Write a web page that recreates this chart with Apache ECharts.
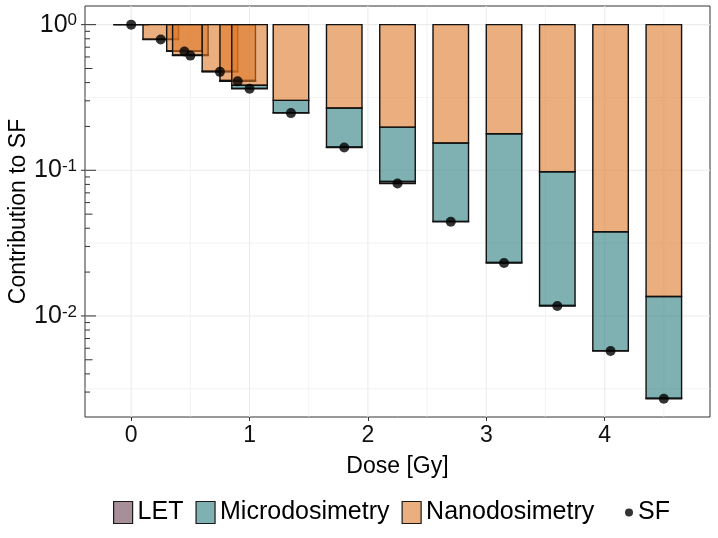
<!DOCTYPE html>
<html><head><meta charset="utf-8">
<script src="https://cdn.jsdelivr.net/npm/echarts@6/dist/echarts.min.js"></script>
<style>html,body{margin:0;padding:0;background:#fff}#c{width:718px;height:538px}</style>
</head><body><div id="c"></div>
<script>
// ---- data ----
const doses    = [0, 0.25, 0.45, 0.5, 0.75, 0.9, 1, 1.35, 1.8, 2.25, 2.7, 3.15, 3.6, 4.05, 4.5];
const sf       = [1, 0.79, 0.655, 0.613, 0.474, 0.408, 0.363, 0.247, 0.1435, 0.0811, 0.0443, 0.0231, 0.0117, 0.00574, 0.0027];
const letTop   = [1, 0.792, 0.657, 0.615, 0.476, 0.41, 0.365, 0.249, 0.1445, 0.0838, 0.0446, 0.0233, 0.01178, 0.00578, 0.00272];
const microTop = [1, 0.795, 0.661, 0.619, 0.48, 0.414, 0.384, 0.302, 0.268, 0.198, 0.154, 0.178, 0.0977, 0.0378, 0.0136];
const ones     = [1, 1, 1, 1, 1, 1, 1, 1, 1, 1, 1, 1, 1, 1, 1];
const xTickLabels = [0, 1, 2, 3, 4];
const xMinorBreaks = [0.5, 1.5, 2.5, 3.5, 4.5];
const yMajorBreaks = [1, 0.1, 0.01];
const yMinorBreaks = [0.316228, 0.0316228, 0.00316228];
const logTickMultipliers = [1, 2, 3, 4, 5, 6, 7, 8, 9];
const logTickDecades = [1, 0.1, 0.01, 0.001];

// ---- layout / style ----
const XMIN = -0.39, XMAX = 4.89;
const YMIN = 0.002023, YMAX = 1.343;
const HALF_W = 0.15;
const FONT = "'Liberation Sans', Arial, Helvetica, sans-serif";
const C_LET = 'rgba(107,68,85,0.6)';
const C_MICRO = 'rgba(42,125,127,0.6)';
const C_NANO = 'rgba(222,120,40,0.6)';

const logTicks = [];
logTickDecades.forEach(d => logTickMultipliers.forEach(m => logTicks.push([d * m, m === 1 ? 2 : (m === 5 ? 1 : 0)])));

function barSeries(name, fill, lo, hi) {
  return {
    name, type: 'custom', coordinateSystem: 'cartesian2d', z: 3,
    data: doses.map((d, i) => [d, lo[i], hi[i]]),
    encode: { x: 0, y: [1, 2] },
    renderItem(params, api) {
      const x = api.value(0), a = api.value(1), b = api.value(2);
      const p1 = api.coord([x - HALF_W, b]);
      const p2 = api.coord([x + HALF_W, a]);
      return { type: 'rect', shape: { x: p1[0], y: p1[1], width: p2[0] - p1[0], height: p2[1] - p1[1] },
        style: { fill, stroke: '#111', lineWidth: 1.4 } };
    }
  };
}

const gridSeries = {
  type: 'custom', silent: true, z: 0, coordinateSystem: 'cartesian2d',
  data: [].concat(
    xTickLabels.map(v => [v, 1, 0, 1]),
    xMinorBreaks.map(v => [v, 1, 0, 0]),
    yMajorBreaks.map(v => [0, v, 1, 1]),
    yMinorBreaks.map(v => [0, v, 1, 0])
  ),
  renderItem(params, api) {
    const cs = params.coordSys;
    const horiz = api.value(2) === 1, major = api.value(3) === 1;
    const p = api.coord([api.value(0), api.value(1)]);
    const style = { stroke: '#EBEBEB', lineWidth: major ? 1.1 : 0.6 };
    if (horiz) return { type: 'line', shape: { x1: cs.x, y1: p[1], x2: cs.x + cs.width, y2: p[1] }, style };
    return { type: 'line', shape: { x1: p[0], y1: cs.y, x2: p[0], y2: cs.y + cs.height }, style };
  }
};

const logTickSeries = {
  type: 'custom', silent: true, z: 6, coordinateSystem: 'cartesian2d',
  data: logTicks.map(t => [XMIN, t[0], t[1]]),
  renderItem(params, api) {
    const v = api.value(1);
    if (v < YMIN || v > YMAX) return null;
    const cs = params.coordSys;
    const y = api.coord([XMIN, v])[1];
    const kind = api.value(2);
    const len = kind === 2 ? 11 : (kind === 1 ? 7.5 : 5);
    const x0 = kind === 2 ? cs.x - 4 : cs.x;
    return { type: 'line', shape: { x1: x0, y1: y, x2: cs.x + len, y2: y }, style: { stroke: '#333', lineWidth: 1 } };
  }
};

const chart = echarts.init(document.getElementById('c'), null, { renderer: 'canvas' });
chart.setOption({
  animation: false,
  backgroundColor: '#fff',
  textStyle: { fontFamily: FONT },
  grid: { left: 85, right: 8, top: 6, bottom: 121, show: true, borderColor: '#333', borderWidth: 1,
          containLabel: false, outerBoundsMode: 'none' },
  xAxis: {
    type: 'value', min: XMIN, max: XMAX,
    name: 'Dose [Gy]', nameLocation: 'middle', nameGap: 38, nameMoveOverlap: false,
    nameTextStyle: { fontSize: 23, color: '#000', fontFamily: FONT },
    axisLine: { show: false },
    axisTick: { show: true, length: 4, customValues: xTickLabels, lineStyle: { color: '#333' } },
    axisLabel: { customValues: xTickLabels, fontSize: 23, color: '#111', margin: 7, fontFamily: FONT },
    splitLine: { show: false }
  },
  yAxis: {
    type: 'log', logBase: 10, min: YMIN, max: YMAX,
    name: 'Contribution to SF', nameLocation: 'middle', nameGap: 55, nameMoveOverlap: false,
    nameTextStyle: { fontSize: 23, color: '#000', fontFamily: FONT },
    axisLine: { show: false }, axisTick: { show: false }, splitLine: { show: false },
    axisLabel: {
      margin: 8, color: '#111', fontFamily: FONT,
      formatter(v) {
        const e = Math.round(Math.log10(v));
        if (Math.abs(v / Math.pow(10, e) - 1) > 1e-6) return '';
        return '{b|10}{s|' + e + '}';
      },
      rich: {
        b: { fontSize: 25, color: '#111', fontFamily: FONT },
        s: { fontSize: 17, color: '#111', fontFamily: FONT, verticalAlign: 'top' }
      }
    }
  },
  legend: [
    {
      left: 113, top: 500, padding: 0, itemWidth: 19, itemHeight: 22, itemGap: 12,
      textStyle: { fontSize: 25, color: '#000', fontFamily: FONT },
      data: [
        { name: 'LET', icon: 'rect', itemStyle: { color: C_LET, borderColor: '#1a1a1a', borderWidth: 1.2 } },
        { name: 'Microdosimetry', icon: 'rect', itemStyle: { color: C_MICRO, borderColor: '#1a1a1a', borderWidth: 1.2 } },
        { name: 'Nanodosimetry', icon: 'rect', itemStyle: { color: C_NANO, borderColor: '#1a1a1a', borderWidth: 1.2 } }
      ]
    },
    {
      left: 625, top: 500, padding: 0, itemWidth: 8, itemHeight: 8,
      textStyle: { fontSize: 25, color: '#000', fontFamily: FONT },
      data: [{ name: 'SF', icon: 'circle', itemStyle: { color: '#000' } }]
    }
  ],
  series: [
    gridSeries,
    barSeries('LET', C_LET, sf, letTop),
    barSeries('Microdosimetry', C_MICRO, letTop, microTop),
    barSeries('Nanodosimetry', C_NANO, microTop, ones),
    logTickSeries,
    {
      name: 'SF', type: 'scatter', z: 10, symbol: 'circle', symbolSize: 10,
      itemStyle: { color: '#000' },
      data: doses.map((d, i) => [d, sf[i]])
    }
  ]
});
</script>
</body></html>
